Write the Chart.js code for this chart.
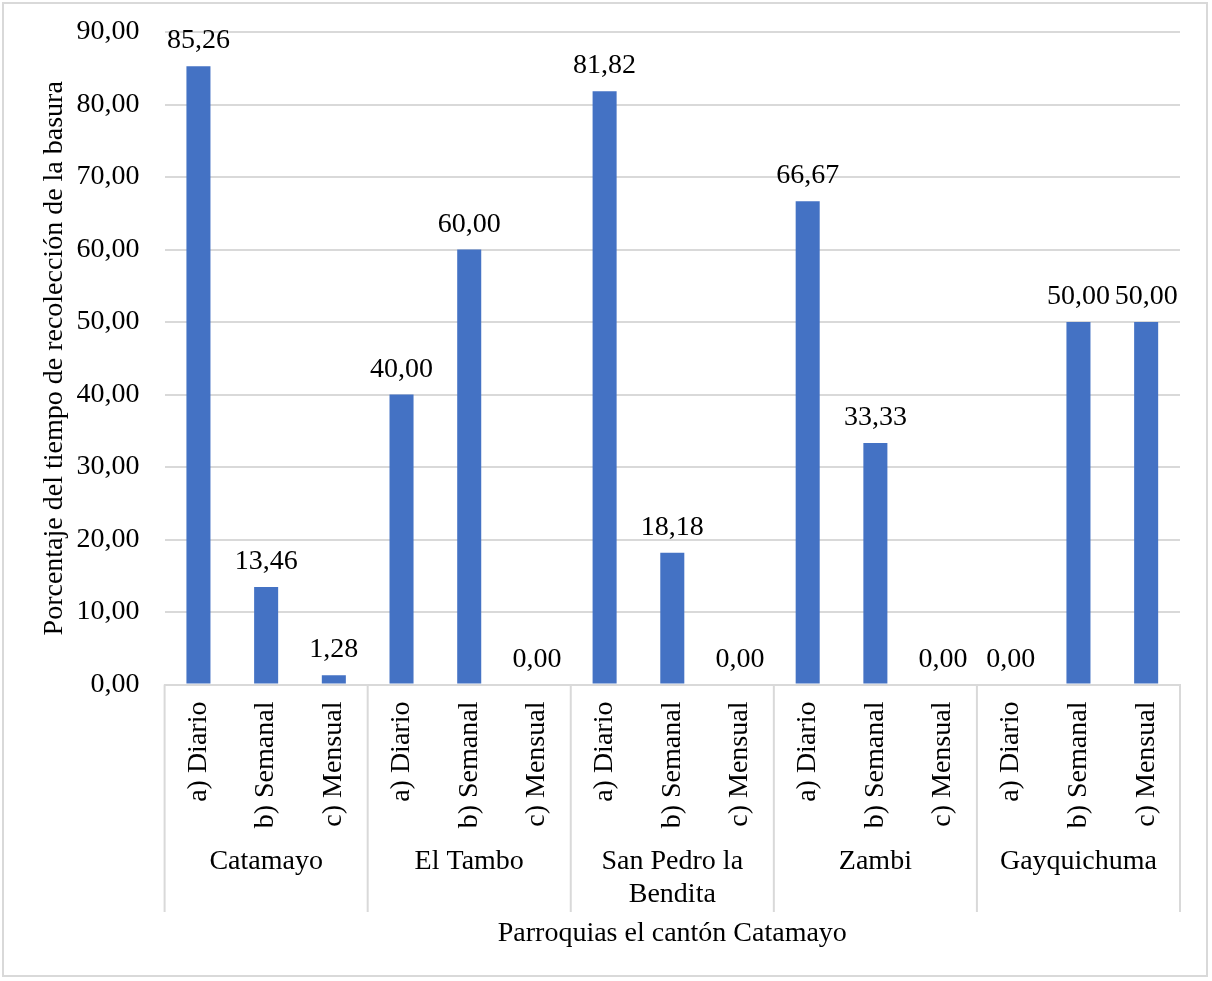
<!DOCTYPE html>
<html>
<head>
<meta charset="utf-8">
<script src="https://cdn.jsdelivr.net/npm/chart.js@4.4.0/dist/chart.umd.min.js"></script>
<style>
  html, body { margin: 0; padding: 0; background: #fff; }
  #frame {
    position: absolute; left: 2px; top: 2px;
    width: 1206px; height: 975px;
    border: 2px solid #d9d9d9; box-sizing: border-box;
  }
  #chart { display: block; }
</style>
</head>
<body>
<div id="frame"><canvas id="chart" width="1202" height="971"></canvas></div>
<script>
// ===== Data =====
const parroquias = ["Catamayo", "El Tambo", ["San Pedro la", "Bendita"], "Zambi", "Gayquichuma"];
const frecuencias = ["a) Diario", "b) Semanal", "c) Mensual"];
const porcentajes = [
  85.26, 13.46, 1.28,   // Catamayo
  40.00, 60.00, 0.00,   // El Tambo
  81.82, 18.18, 0.00,   // San Pedro la Bendita
  66.67, 33.33, 0.00,   // Zambi
  0.00, 50.00, 50.00    // Gayquichuma
];
const yTicks = { min: 0, max: 90, step: 10 };

// sub labels repeated once per parroquia
const subLabels = [];
parroquias.forEach(() => frecuencias.forEach(f => subLabels.push(f)));

const FONT = "'Liberation Serif', 'Times New Roman', serif";
const SIZE = 28;
const fmt = v => v.toFixed(2).replace(".", ",");

// ===== Plugins =====
const valueLabels = {
  id: "valueLabels",
  afterDatasetsDraw(chart) {
    const ctx = chart.ctx;
    const meta = chart.getDatasetMeta(0);
    ctx.save();
    ctx.font = SIZE + "px " + FONT;
    ctx.fillStyle = "#000";
    ctx.textAlign = "center";
    ctx.textBaseline = "alphabetic";
    meta.data.forEach((bar, i) => {
      ctx.fillText(fmt(porcentajes[i]), bar.x, bar.y - 18);
    });
    ctx.restore();
  }
};

const groupDividers = {
  id: "groupDividers",
  afterDraw(chart) {
    const x = chart.scales.x;
    const x2 = chart.scales.x2;
    const ctx = chart.ctx;
    const n = frecuencias.length;
    const bottom = x2.bottom - 38;
    ctx.save();
    ctx.strokeStyle = "#d9d9d9";
    ctx.lineWidth = 2;
    for (let g = 0; g <= parroquias.length; g++) {
      let px;
      if (g === 0) px = x.left;
      else if (g === parroquias.length) px = x.right;
      else px = (x.getPixelForValue(g * n - 1) + x.getPixelForValue(g * n)) / 2;
      ctx.beginPath();
      ctx.moveTo(px, x.top);
      ctx.lineTo(px, bottom);
      ctx.stroke();
    }
    ctx.restore();
  }
};

// Chart.js reserves extra room around rotated/padded tick labels; not wanted here
function noSidePadding(scale) {
  scale.paddingLeft = 0;
  scale.paddingRight = 0;
}
function noEndPadding(scale) {
  scale.paddingTop = 0;
  scale.paddingBottom = 0;
}

// ===== Chart =====
new Chart(document.getElementById("chart"), {
  type: "bar",
  data: {
    labels: subLabels,
    datasets: [{
      data: porcentajes,
      backgroundColor: "#4472C4",
      categoryPercentage: 1,
      barPercentage: 0.355
    }]
  },
  options: {
    responsive: false,
    animation: false,
    layout: { padding: { top: 28, right: 26, left: 34, bottom: 25 } },
    plugins: {
      legend: { display: false },
      tooltip: { enabled: false }
    },
    scales: {
      x: {
        grid: { display: false },
        border: { color: "#d9d9d9", width: 2 },
        afterFit: noSidePadding,
        ticks: {
          color: "#000",
          font: { family: FONT, size: SIZE },
          maxRotation: 90, minRotation: 90,
          padding: 9
        }
      },
      x2: {
        type: "category",
        position: "bottom",
        labels: parroquias,
        offset: true,
        grid: { display: false },
        border: { display: false },
        afterFit: noSidePadding,
        ticks: {
          color: "#000",
          font: { family: FONT, size: SIZE, lineHeight: 1.18 },
          maxRotation: 0,
          padding: 0
        },
        title: {
          display: true,
          text: "Parroquias el cantón Catamayo",
          color: "#000",
          font: { family: FONT, size: SIZE },
          padding: { top: 5, bottom: 0 }
        }
      },
      y: {
        min: yTicks.min,
        max: yTicks.max,
        grid: { color: "#d9d9d9", lineWidth: 2, drawTicks: false },
        border: { display: false },
        afterFit: noEndPadding,
        ticks: {
          stepSize: yTicks.step,
          color: "#000",
          font: { family: FONT, size: SIZE },
          padding: 25,
          callback: v => fmt(v)
        },
        title: {
          display: true,
          text: "Porcentaje del tiempo de recolección de la basura",
          color: "#000",
          font: { family: FONT, size: SIZE },
          padding: { top: 0, bottom: -20 }
        }
      }
    }
  },
  plugins: [valueLabels, groupDividers]
});
</script>
</body>
</html>
